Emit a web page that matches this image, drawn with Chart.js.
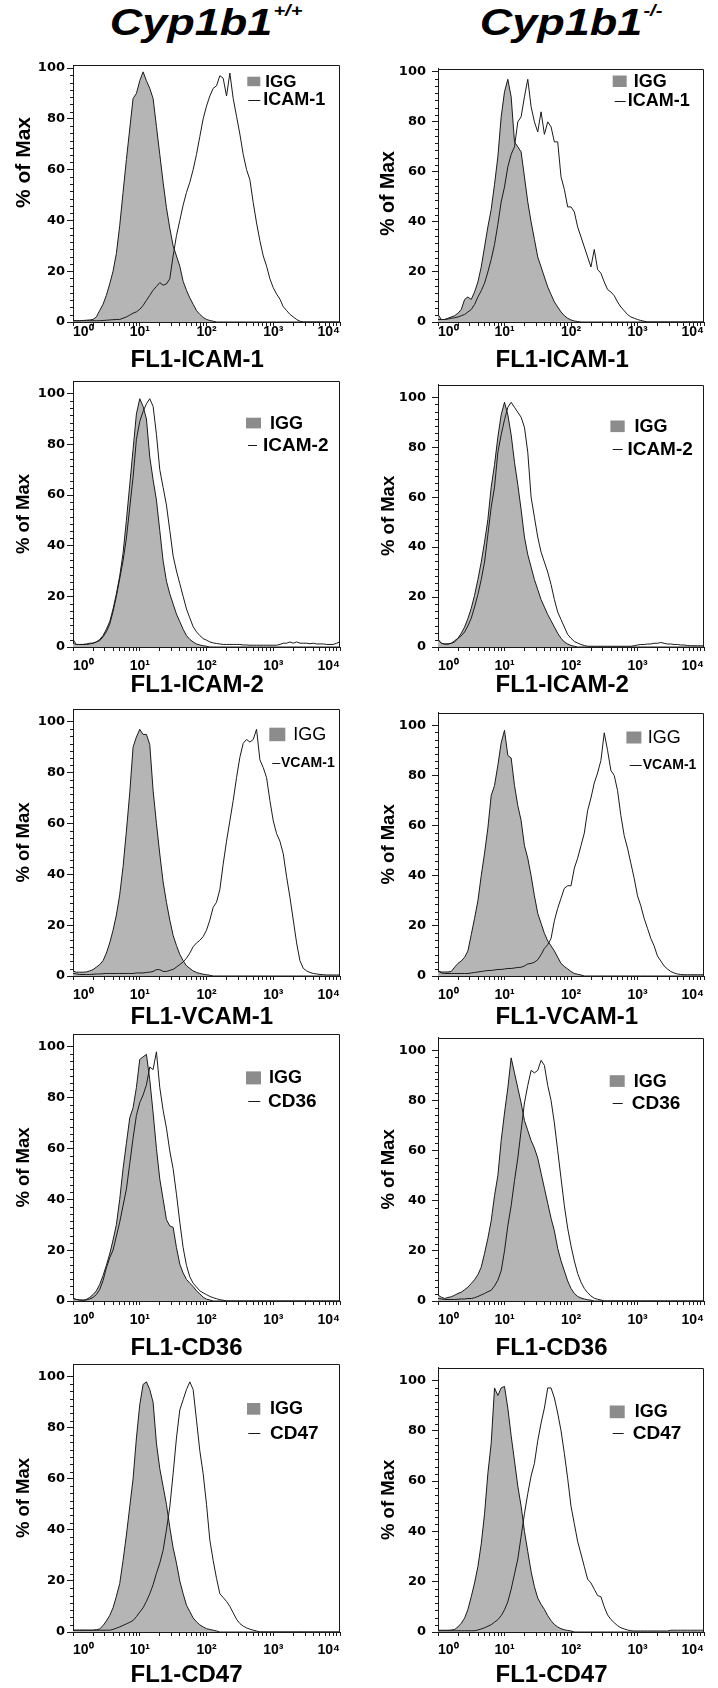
<!DOCTYPE html>
<html><head><meta charset="utf-8">
<script src="https://cdn.jsdelivr.net/npm/chart.js@4.4.1/dist/chart.umd.min.js"></script>
<style>
html,body{margin:0;padding:0;background:#fff;}
body{width:718px;height:1688px;position:relative;overflow:hidden;}
.hdr{position:absolute;top:3px;width:290px;text-align:center;font:italic bold 36px "Liberation Sans",Arial,sans-serif;line-height:40px;color:#000;transform:scaleX(1.25);transform-origin:50% 50%;white-space:nowrap;}
.hdr .sup{font-size:16px;position:relative;top:-19px;margin-left:1px;}
canvas{position:absolute;}
</style></head><body>
<div class="hdr" style="left:61px">Cyp1b1<span class="sup">+/+</span></div>
<div class="hdr" style="left:426px">Cyp1b1<span class="sup">-/-</span></div>
<script>
// Channel bins (FL1 intensity), log-spaced
const bins = [1,1.122,1.259,1.413,1.585,1.778,1.995,2.239,2.512,2.818,3.162,3.548,3.981,4.467,5.012,5.623,6.310,7.079,7.943,8.913,
10,11.22,12.59,14.13,15.85,17.78,19.95,22.39,25.12,28.18,31.62,35.48,39.81,44.67,50.12,56.23,63.10,70.79,79.43,89.13,
100,112.2,125.9,141.3,158.5,177.8,199.5,223.9,251.2,281.8,316.2,354.8,398.1,446.7,501.2,562.3,631.0,707.9,794.3,891.3,
1000,1122,1259,1413,1585,1778,1995,2239,2512,2818,3162,3548,3981,4467,5012,5623,6310,7079,7943,8913,10000];
const xTickValues = [1,2,3,4,5,6,7,8,9,10,20,30,40,50,60,70,80,90,100,200,300,400,500,600,700,800,900,1000,2000,3000,4000,5000,6000,7000,8000,9000,10000];
const yTickValues = [0,20,40,60,80,100];
const supDigits = ['\u2070','\u00B9','\u00B2','\u00B3','\u2074'];

// ICAM-1
const icam1WtIgg = [0.5,0.5,0.5,0.6,0.7,0.8,1,2,4.5,7, 10.5,15,20,27,38,51,64,76,88,90, 95,98.5,95,92,88,77,66,55,45,37, 30,26,22,16,12.5,9.5,7,4.5,3,1.8, 1,0.6,0.3,0,0,0,0,0,0,0, 0,0,0,0,0,0,0,0,0,0, 0,0,0,0,0,0,0,0,0,0, 0,0,0,0,0,0,0,0,0,0, 0];
const icam1WtMarker = [0.5,0.5,0.5,0.5,0.5,0.5,0.5,0.5,0.5,0.6, 0.7,0.8,0.9,1,1,1.5,2,2.7,3.5,4, 5,6.5,8.5,10.5,12.5,14,15.5,14.5,15,17, 26,34,40,46,51,55,60,66,73,80, 85,89,92,93,97,96,89,98,88,81, 74,66,60,56,47,39,32,26,22,17, 13.5,11,9,6,4.5,3,2,1,0.3,0, 0,0,0,0,0,0,0,0,0,0, 0];
const icam1KoIgg = [3,1,1,1.5,2,2.5,3.5,5,9,10, 9,12,16,22,30,38,45,55,66,82, 92,97,90,72,70,68,58,48,40,33, 26,22,18,14,11,8,6,4,2.5,1.5, 0.8,0.4,0.2,0,0,0,0,0,0,0, 0,0,0,0,0,0,0,0,0,0, 0,0,0,0,0,0,0,0,0,0, 0,0,0,0,0,0,0,0,0,0, 0];
const icam1KoMarker = [1,1,1,1.2,1.5,1.7,2,2.5,3,4, 5,7,10,12.5,15.5,20,25,31,39,48, 54,62,67,70,80,82,90,97,86,80, 76,84,75,80,78,72,72,58,53,46, 46,44,38,34,30,26,22,29,21,19.5, 16,13,12,10.5,8,6,4.5,3,2,1.5, 1,0.6,0.3,0,0,0,0,0,0,0, 0,0,0,0,0,0,0,0,0,0, 0];
// ICAM-2
const icam2WtIgg = [1.5,1,1,1,1,1.2,1.5,2,3,4.5, 7,10,15,21,28,37,50,64,78,92, 98,95,90,75,66,58,46,34,26,21, 17,13,10,7,4.5,3,2,1.2,0.8,0.5, 0.3,0,0,0,0,0,0,0,0,0, 0,0,0,0,0,0,0,0,0,0, 0,0,0,0,0,0,0,0,0,0, 0,0,0,0,0,0,0,0,0,0, 0];
const icam2WtMarker = [3,1,1,1,1.2,1.5,1.5,2,2.5,4, 6,9,14,20,27,34,43,55,67,82, 89,93,96,98,95,84,70,63,56,46, 36,30,25,20,15,11.5,8,6,4.5,3.3, 2.7,2,1.6,1.4,1.2,1,1,1,1,1, 1,0.8,0.8,0.7,0.7,0.7,0.7,0.7,0.7,0.7, 0.7,0.7,1,1.5,1.5,2,1.5,2,1.5,1.5, 1.5,1.3,1.5,1.2,1.2,1.2,1,1,1,1.5, 2];
const icam2KoIgg = [3,1.5,1.2,1.2,1.5,2,3.5,5.5,8,11.4, 15.5,20.7,27,34,42,51,64,73,84,93, 98,93,85,74,65,55,44,37,32,27, 23,19,16,13,10.5,8,5.5,3.5,2,1.2, 0.6,0.3,0,0,0,0,0,0,0,0, 0,0,0,0,0,0,0,0,0,0, 0,0,0,0,0,0,0,0,0,0, 0,0,0,0,0,0,0,0,0,0, 0];
const icam2KoMarker = [3,1.5,1.2,1.2,1.5,2.5,3.5,4.5,6,8.5, 11.5,16,21,27,34,45,56,64,78,85, 91,96,98,96,94,92,88,78,60,52, 44,38,34,30,25,19,14,11,8,5, 3.5,2.2,1.6,1,0.6,0.3,0.3,0.3,0.3,0.3, 0.3,0.3,0.3,0.3,0.3,0.3,0.3,0.3,0.3,0.5, 0.8,1,1,1.2,1.2,1.5,1.5,1.8,1.5,1.2, 1.2,1,1,0.8,0.8,0.6,0.5,0.5,0.5,0.5, 0.5];
// VCAM-1
const vcam1WtIgg = [2,1.5,1.5,1.5,1.6,2,2.5,3.5,4.5,6, 9,13,18,24,32,43,57,72,90,94, 97,95,95,91,73,60,48,37,29,22, 16,12,8.5,6,4,3,2,1.4,1,0.7, 0.5,0.3,0,0,0,0,0,0,0,0, 0,0,0,0,0,0,0,0,0,0, 0,0,0,0,0,0,0,0,0,0, 0,0,0,0,0,0,0,0,0,0, 0];
const vcam1WtMarker = [1,0.8,0.6,0.6,0.6,0.6,0.7,0.8,0.8,0.9, 1,1,1,1,1,1,1,1,1,1.2, 1.2,1.2,1.4,1.5,1.8,2.5,2.5,1.8,1.8,2.2, 2.6,3.5,4.5,5.5,7,9,11.5,13,14,15.5, 18,22,27,29,34,44,53,61,69,78, 86,91.5,93,92,93,97,85,82,78,69, 61,56,53,48,39,31,22,13,6,3, 2,1.4,1,0.8,0.6,0.5,0.4,0.4,0.4,0.4, 0.4];
const vcam1KoIgg = [2,1.6,1.6,1.6,1.8,3.5,5,6,7.5,10, 16.5,23,30,40,49,59,72,76,84,93, 98,88,87,76,68,62,52,47,40,32, 25,21,17,14,12,10,7.5,5,3.8,2.8, 1.8,1,0.7,0.4,0,0,0,0,0,0, 0,0,0,0,0,0,0,0,0,0, 0,0,0,0,0,0,0,0,0,0, 0,0,0,0,0,0,0,0,0,0, 0];
const vcam1KoMarker = [2,1.2,1,1,1,1,1,1,1,1, 1.2,1.4,1.6,1.8,2,2.2,2.2,2.4,2.6,2.6, 2.8,3,3,3.2,3.4,3.5,4,4.8,5,5.5, 6.5,8.5,11,12.5,15,22,27,31,35,36, 36,43,47,52,57,66,71,77,81,86, 97,90,82,80,74,64,56,51,45,39, 32,28,23,19,15,12,8,6,4,2.8, 1.8,1.2,0.8,0.6,0.5,0.5,0.5,0.5,0.5,0.5, 0.5];
// CD36
const cd36WtIgg = [1,0.6,0.4,0.3,0.6,1.4,2.5,4,6.5,10, 14,18.5,24,30,40,52,62,72,76,84, 95,96,97,87,74,60,48,40,32,29.5, 29,21,14.5,11,8.5,7,5.7,4,2.8,1.5, 0.7,0.4,0,0,0,0,0,0,0,0, 0,0,0,0,0,0,0,0,0,0, 0,0,0,0,0,0,0,0,0,0, 0,0,0,0,0,0,0,0,0,0, 0];
const cd36WtMarker = [1,0.6,0.4,0.3,0.4,0.8,1.4,2.5,4.5,8, 13,17,20,25.5,31,37.5,44,54,64,73, 78,81,85,92,91,98,84,75,68,59, 52,42,31,21,14,9.5,7,5.5,4,3.2, 2.5,1.8,1.3,0.9,0.5,0.3,0,0,0,0, 0,0,0,0,0,0,0,0,0,0, 0,0,0,0,0,0,0,0,0,0, 0,0,0,0,0,0,0,0,0,0, 0];
const cd36KoIgg = [2.4,1.5,1,1.4,1.7,2.3,3,3.5,4.5,5.5, 7,8.5,10.5,13.5,19,25,32,42,50,64, 75,85,97,91,85,79,72,68,64,61, 57,51,45,39,33,28,21,16,12,8, 5,3,1.8,1.2,0.8,0.5,0.3,0,0,0, 0,0,0,0,0,0,0,0,0,0, 0,0,0,0,0,0,0,0,0,0, 0,0,0,0,0,0,0,0,0,0, 0];
const cd36KoMarker = [1,0.8,0.6,0.6,0.6,0.6,0.7,0.8,0.8,1, 1,1.3,1.8,2.4,3,3.7,4.3,6,8.3,12, 20,30,38,48,57,68,79,86,92,91, 92,96,94,86,80,71,60,49,38,29, 22,16,11,7.5,5,3.3,2,1.1,0.7,0.4, 0,0,0,0,0,0,0,0,0,0, 0,0,0,0,0,0,0,0,0,0, 0,0,0,0,0,0,0,0,0,0, 0];
// CD47
const cd47WtIgg = [0.7,0.7,0.7,0.7,0.7,0.7,0.7,0.9,1.2,2.5, 4.3,6.5,9.5,14,19,28,38,49,60,76, 89,97,98,95,90,74,64,57,50,41, 33,27,20,15,10.5,8,5.5,4,2.8,2, 1.3,1,0.7,0.4,0,0,0,0,0,0, 0,0,0,0,0,0,0,0,0,0, 0,0,0,0,0,0,0,0,0,0, 0,0,0,0,0,0,0,0,0,0, 0];
const cd47WtMarker = [0.7,0.7,0.7,0.7,0.7,0.7,0.7,0.7,0.7,0.7, 0.7,0.7,1,1.5,2,2.6,3.2,3.8,4.5,6, 7.8,9.5,12,15,18.5,23,27,32,40,49, 62,76,87,91,95,98,95,83,71,62, 50,36,28,21,15,13.5,12,10,7.5,5, 3.3,2.3,1.6,1.1,0.7,0.4,0,0,0,0, 0,0,0,0,0,0,0,0,0,0, 0,0,0,0,0,0,0,0,0,0, 0];
const cd47KoIgg = [0.7,0.7,0.7,0.7,0.8,1,2,3.5,5.5,9, 14,19.5,26,35,47,63,75,97,94,97, 97.6,89,78,68,58,50,40,32,24,18, 13.5,11,9,6.5,4.5,3,2,1.3,0.9,0.6, 0.4,0,0,0,0,0,0,0,0,0, 0,0,0,0,0,0,0,0,0,0, 0,0,0,0,0,0,0,0,0,0, 0,0,0,0,0,0,0,0,0,0, 0];
const cd47KoMarker = [0.5,0.5,0.5,0.5,0.5,0.5,0.5,0.5,0.5,0.5, 0.5,0.5,0.8,1.2,1.7,2.3,2.9,3.9,4.9,6.5, 8.8,12,17,23,29,38,47,55,62,67, 76,83,89,97,97,93,87,80,71,61, 50,43,36,31,26,21,19.5,17,14.5,14, 10,6.8,5,3.7,2.5,1.7,1.2,0.8,0.5,0.4, 0.4,0.4,0.4,0.4,0.4,0.4,0.4,0.4,0.4,0.4, 0.7,0.7,0.7,0.7,0.7,0.7,0.7,0.7,0.7,0.7, 0.7];

// ---- layout ----
const frameTop = [65, 381, 709, 1034, 1364];
const frameBottom = [322, 647, 976, 1301, 1632];
const yMaxByRow = [101.2, 105, 105, 105, 105];
const xTitleDyByRow = [45, 44.5, 47.6, 54, 50.2];
const xTickPadByRow = [-1, 8, 8, 8, 7];
const colX = [0, 359], yAxisW = [73, 79], rightPad = [19, 14], yLabelPad = [2, 6];
const FONT = '"Liberation Sans", Arial, sans-serif';

const panels = [
  {row:0,col:0,igg:icam1WtIgg,mk:icam1WtMarker,label:'ICAM-1',xTitle:'FL1-ICAM-1',yDy:-31,ySize:21,
   leg:{sx:174.3,sy:11.7,w:13,h:9.5,t1:18,l0:1,lw:12,ld:23.3,t2:16,f1:'bold 17px '+FONT,f2:'bold 18px '+FONT}},
  {row:0,col:1,igg:icam1KoIgg,mk:icam1KoMarker,label:'ICAM-1',xTitle:'FL1-ICAM-1',yDy:-2,ySize:19.5,
   leg:{sx:174.7,sy:6.7,w:14,h:11.5,t1:21,l0:2,lw:11,ld:25,t2:15,f1:'bold 18px '+FONT,f2:'bold 18px '+FONT}},
  {row:1,col:0,igg:icam2WtIgg,mk:icam2WtMarker,label:'ICAM-2',xTitle:'FL1-ICAM-2',yDy:0,ySize:18.5,
   leg:{sx:173,sy:36.7,w:15,h:10.7,t1:24,l0:2,lw:9,ld:27.3,t2:17,f1:'bold 18px '+FONT,f2:'bold 19px '+FONT}},
  {row:1,col:1,igg:icam2KoIgg,mk:icam2KoMarker,label:'ICAM-2',xTitle:'FL1-ICAM-2',yDy:0,ySize:18.5,
   leg:{sx:172.4,sy:35.7,w:14.3,h:11.6,t1:24,l0:2.3,lw:10,ld:28.3,t2:17,f1:'bold 18px '+FONT,f2:'bold 19px '+FONT}},
  {row:2,col:0,igg:vcam1WtIgg,mk:vcam1WtMarker,label:'VCAM-1',xTitle:'FL1-VCAM-1',yDy:0,ySize:18.5,
   leg:{sx:196.3,sy:18.7,w:16,h:13.5,t1:24,l0:3,lw:8,ld:35.3,t2:11.7,f1:'18px '+FONT,f2:'bold 14px '+FONT}},
  {row:2,col:1,igg:vcam1KoIgg,mk:vcam1KoMarker,label:'VCAM-1',xTitle:'FL1-VCAM-1',yDy:0,ySize:18.5,
   leg:{sx:188.4,sy:18.7,w:15,h:12,t1:21.3,l0:3.3,lw:12,ld:33.7,t2:16.3,f1:'18px '+FONT,f2:'bold 14px '+FONT}},
  {row:3,col:0,igg:cd36WtIgg,mk:cd36WtMarker,label:'CD36',xTitle:'FL1-CD36',yDy:0,ySize:18.5,
   leg:{sx:173,sy:37.4,w:15,h:13,t1:23,l0:2.3,lw:12,ld:30,t2:22,f1:'bold 18px '+FONT,f2:'bold 19px '+FONT}},
  {row:3,col:1,igg:cd36KoIgg,mk:cd36KoMarker,label:'CD36',xTitle:'FL1-CD36',yDy:0,ySize:18.5,
   leg:{sx:171.7,sy:37.4,w:15,h:11.7,t1:24,l0:3,lw:10,ld:27.3,t2:22,f1:'bold 18px '+FONT,f2:'bold 19px '+FONT}},
  {row:4,col:0,igg:cd47WtIgg,mk:cd47WtMarker,label:'CD47',xTitle:'FL1-CD47',yDy:0,ySize:18.5,
   leg:{sx:174,sy:39,w:13.3,h:11.7,t1:23,l0:1.3,lw:12,ld:29.7,t2:23,f1:'bold 18px '+FONT,f2:'bold 19px '+FONT}},
  {row:4,col:1,igg:cd47KoIgg,mk:cd47KoMarker,label:'CD47',xTitle:'FL1-CD47',yDy:0,ySize:18.5,
   leg:{sx:171.7,sy:37.7,w:15,h:12.7,t1:25,l0:3,lw:11,ld:27.3,t2:23,f1:'bold 18px '+FONT,f2:'bold 19px '+FONT}}
];

function xLabel(v){
  const lg = Math.log10(v), e = Math.round(lg);
  return Math.abs(lg - e) < 1e-9 ? '10' + supDigits[e] : '';
}

const decor = {
  id: 'decor',
  afterDatasetsDraw(chart, args, o) {
    const ctx = chart.ctx, a = chart.chartArea, ys = chart.scales.y;
    const ink = '#1a1a1a';
    ctx.save();
    ctx.strokeStyle = ink; ctx.lineWidth = 1;
    // top and right frame edges
    const r = Math.round(a.right) - 0.5, t = Math.round(a.top) + 0.5;
    ctx.beginPath();
    ctx.moveTo(Math.round(a.left), t); ctx.lineTo(r, t); ctx.lineTo(r, Math.round(a.bottom));
    ctx.stroke();
    // minor y ticks
    const lx = Math.round(a.left);
    ctx.beginPath();
    for (let k = 1; k < 35; k++) {
      if (k % 7 === 0) continue;
      const py = Math.round(ys.getPixelForValue(k * 20 / 7)) + 0.5;
      ctx.moveTo(lx - 3, py); ctx.lineTo(lx, py);
    }
    ctx.stroke();
    // legend
    const g = o.leg, ds = chart.data.datasets;
    const L = a.left, T = a.top;
    ctx.fillStyle = '#8c8c8c';
    ctx.fillRect(L + g.sx, T + g.sy, g.w, g.h);
    ctx.fillStyle = '#000';
    ctx.textAlign = 'left'; ctx.textBaseline = 'middle';
    ctx.font = g.f1;
    ctx.fillText(ds[1].label, L + g.sx + g.t1, T + g.sy + g.h / 2 + 0.5);
    ctx.beginPath();
    const ly = Math.round(T + g.sy + g.ld) + 0.5;
    ctx.moveTo(L + g.sx + g.l0, ly); ctx.lineTo(L + g.sx + g.l0 + g.lw, ly);
    ctx.stroke();
    ctx.font = g.f2;
    ctx.fillText(ds[0].label, L + g.sx + g.t2, ly);
    // x title
    ctx.textBaseline = 'alphabetic';
    ctx.font = 'bold 24px ' + FONT;
    ctx.fillText(o.xTitle, L + 57.5, a.bottom + o.xTitleDy);
    // y title
    ctx.translate(L - 49, (a.top + a.bottom) / 2 + o.yDy);
    ctx.rotate(-Math.PI / 2);
    ctx.textAlign = 'center'; ctx.textBaseline = 'middle';
    ctx.font = 'bold ' + o.ySize + 'px ' + FONT;
    ctx.fillText('% of Max', 0, 0);
    ctx.restore();
  }
};

panels.forEach(p => {
  const cv = document.createElement('canvas');
  const top = frameTop[p.row] - 10;
  const h = frameBottom[p.row] - frameTop[p.row] + 66;
  cv.width = 359; cv.height = h;
  cv.style.left = colX[p.col] + 'px'; cv.style.top = top + 'px';
  cv.style.width = '359px'; cv.style.height = h + 'px';
  document.body.appendChild(cv);
  new Chart(cv, {
    type: 'line',
    data: { datasets: [
      { label: p.label, data: bins.map((x, i) => ({x: x, y: p.mk[i]})), borderColor: '#1a1a1a', borderWidth: 1,
        pointRadius: 0, fill: false, tension: 0, order: 0 },
      { label: 'IGG', data: bins.map((x, i) => ({x: x, y: p.igg[i]})), borderColor: '#1a1a1a', borderWidth: 1,
        backgroundColor: '#b5b5b5', fill: 'origin', pointRadius: 0, tension: 0, order: 1 }
    ]},
    options: {
      responsive: false, animation: false,
      layout: { autoPadding: false, padding: { left: 0, right: rightPad[p.col], top: 10, bottom: 0 } },
      plugins: {
        legend: { display: false }, tooltip: { enabled: false },
        decor: { leg: p.leg, xTitle: p.xTitle, xTitleDy: xTitleDyByRow[p.row], yDy: p.yDy, ySize: p.ySize }
      },
      scales: {
        x: {
          type: 'logarithmic', min: 1, max: 10000,
          afterBuildTicks: s => { s.ticks = xTickValues.map(v => ({value: v})); },
          afterFit: s => { s.height = 56; },
          grid: { display: true, drawOnChartArea: false, drawTicks: true, tickLength: 4, color: '#1a1a1a' },
          border: { display: true, color: '#1a1a1a', width: 1 },
          ticks: { autoSkip: false, maxRotation: 0, minRotation: 0, align: 'inner', padding: xTickPadByRow[p.row], color: '#000',
            font: { family: FONT, weight: 'bold', size: 14, lineHeight: 1 }, callback: v => xLabel(v) }
        },
        y: {
          min: 0, max: yMaxByRow[p.row],
          afterBuildTicks: s => { s.ticks = yTickValues.map(v => ({value: v})); },
          afterFit: s => { s.width = yAxisW[p.col]; },
          grid: { display: true, drawOnChartArea: false, drawTicks: true, tickLength: 6, color: '#1a1a1a' },
          border: { display: true, color: '#1a1a1a', width: 1 },
          ticks: { padding: yLabelPad[p.col], color: '#000', font: { family: '"DejaVu Sans", sans-serif', weight: 'bold', size: 13 } }
        }
      }
    },
    plugins: [decor]
  });
});
</script>
</body></html>
